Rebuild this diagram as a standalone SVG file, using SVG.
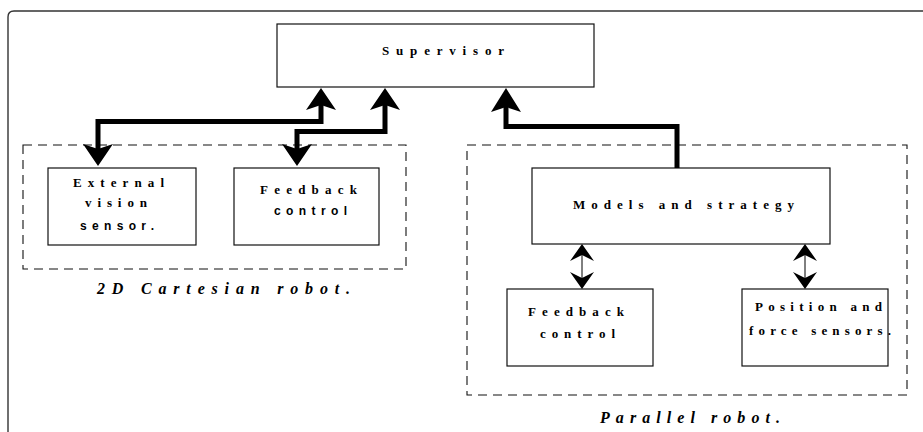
<svg xmlns="http://www.w3.org/2000/svg" width="923" height="432" viewBox="0 0 923 432">
<defs>
<style>
.box{fill:#fff;stroke:#111;stroke-width:1.2}
.dash{fill:none;stroke:#111;stroke-width:1.1;stroke-dasharray:9 6}
.frame{fill:none;stroke:#333;stroke-width:1.4}
.t{font-family:"Liberation Serif",serif;font-weight:bold;font-size:13px;fill:#000}
.s{font-family:"Liberation Sans",sans-serif;font-weight:bold;font-size:12px;fill:#000}
.lbl{font-family:"Liberation Serif",serif;font-weight:bold;font-style:italic;font-size:16px;fill:#000}
.wire{fill:none;stroke:#000;stroke-width:5;stroke-linejoin:miter}
.thin{fill:none;stroke:#000;stroke-width:1}
.head{fill:#000}
</style>
</defs>
<rect width="923" height="432" fill="#fff"/>
<path class="frame" d="M8,432 L8,17 Q8,11 14,11 L923,11"/>

<g id="cartesian-group">
<rect class="dash" x="23" y="145" width="383" height="124"/>
<text class="lbl" x="97" y="294" textLength="253" lengthAdjust="spacing">2D Cartesian robot.</text>
</g>
<g id="parallel-group">
<rect class="dash" x="467" y="145" width="440" height="250"/>
<text class="lbl" x="600" y="423" textLength="180" lengthAdjust="spacing">Parallel robot.</text>
</g>

<g id="supervisor">
<rect class="box" x="277" y="24" width="317" height="63"/>
<text class="t" x="382" y="55" textLength="122" lengthAdjust="spacing">Supervisor</text>
</g>
<g id="external-vision">
<rect class="box" x="48" y="168" width="148" height="77"/>
<text class="t" x="73" y="187" textLength="91" lengthAdjust="spacing">External</text>
<text class="t" x="85" y="207" textLength="62" lengthAdjust="spacing">vision</text>
<text class="s" x="80" y="230" textLength="74" lengthAdjust="spacing">sensor.</text>
</g>
<g id="feedback-left">
<rect class="box" x="234" y="168" width="145" height="77"/>
<text class="t" x="260" y="194" textLength="97" lengthAdjust="spacing">Feedback</text>
<text class="s" x="274" y="215" textLength="73" lengthAdjust="spacing">control</text>
</g>
<g id="models">
<rect class="box" x="532" y="168" width="298" height="76"/>
<text class="t" x="573" y="209" textLength="221" lengthAdjust="spacing" font-size="14">Models and strategy</text>
</g>
<g id="feedback-right">
<rect class="box" x="507" y="289" width="146" height="77"/>
<text class="t" x="528" y="316" textLength="96" lengthAdjust="spacing">Feedback</text>
<text class="t" x="540" y="338" textLength="75" lengthAdjust="spacing">control</text>
</g>
<g id="sensors">
<rect class="box" x="742" y="289" width="146" height="77"/>
<text class="t" x="755" y="311" textLength="127" lengthAdjust="spacing">Position and</text>
<text class="t" x="749" y="335" textLength="142" lengthAdjust="spacing">force sensors.</text>
</g>

<g id="connectors">
<polyline class="wire" points="321,105 321,121.5 98,121.5 98,150"/>
<polygon class="head" points="321,88 336,110 321,105 306,110"/>
<polygon class="head" points="98,166 113,144 98,149 83,144"/>

<polyline class="wire" points="385,105 385,131.5 297,131.5 297,150"/>
<polygon class="head" points="385,88 400,110 385,105 370,110"/>
<polygon class="head" points="297,166 312,144 297,149 282,144"/>

<polyline class="wire" points="506,106 506,126.5 677,126.5 677,168"/>
<polygon class="head" points="506,88 521,112 506,107 491,112"/>

<line class="thin" x1="582" y1="252" x2="582" y2="280"/>
<polygon class="head" points="582,244 594,261 582,255 570,261"/>
<polygon class="head" points="582,289 594,272 582,278 570,272"/>

<line class="thin" x1="805" y1="252" x2="805" y2="280"/>
<polygon class="head" points="805,244 817,261 805,255 793,261"/>
<polygon class="head" points="805,289 817,272 805,278 793,272"/>
</g>
</svg>
